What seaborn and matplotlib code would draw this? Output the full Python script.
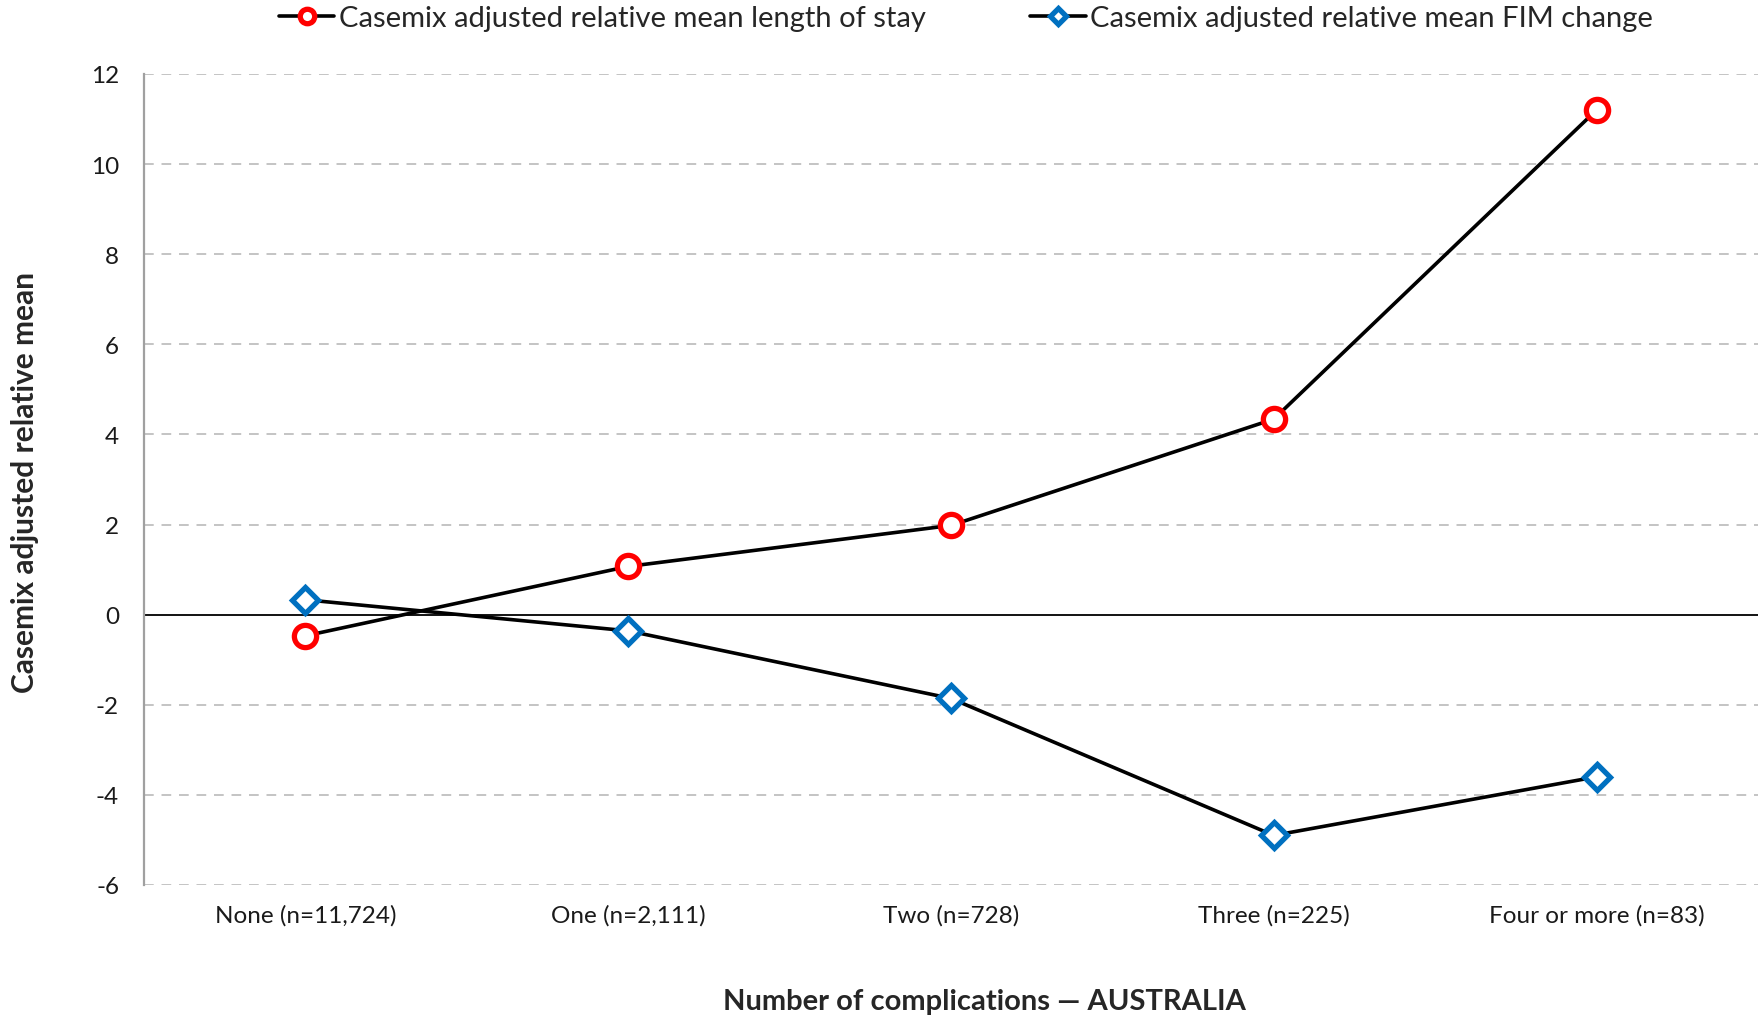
import matplotlib
matplotlib.use("Agg")
import matplotlib.pyplot as plt
import seaborn as sns
import pandas as pd

categories = ["None (n=11,724)", "One (n=2,111)", "Two (n=728)",
              "Three (n=225)", "Four or more (n=83)"]
los_values = [-0.47, 1.07, 1.98, 4.34, 11.2]
fim_values = [0.33, -0.36, -1.86, -4.9, -3.6]
y_ticks = [-6, -4, -2, 0, 2, 4, 6, 8, 10, 12]

los_label = "Casemix adjusted relative mean length of stay"
fim_label = "Casemix adjusted relative mean FIM change"

sns.set_theme(style="white")
plt.rcParams["font.family"] = ["Lato", "DejaVu Sans"]

fig = plt.figure(figsize=(17.65, 10.2), dpi=100)
ax = fig.add_axes([0.0816, 0.1314, 0.9144, 0.7951])

df_los = pd.DataFrame({"cat": categories, "val": los_values})
df_fim = pd.DataFrame({"cat": categories, "val": fim_values})

sns.lineplot(data=df_los, x="cat", y="val", ax=ax, color="black", lw=2.6,
             marker="o", markersize=16, markerfacecolor="white",
             markeredgecolor="#FF0000", markeredgewidth=3.8,
             label=los_label, zorder=4)
sns.lineplot(data=df_fim, x="cat", y="val", ax=ax, color="black", lw=2.6,
             marker="D", markersize=13, markerfacecolor="white",
             markeredgecolor="#0070C0", markeredgewidth=3.8,
             label=fim_label, zorder=4)

ax.set_xlim(-0.5, 4.5)
ax.set_ylim(-6, 12)
ax.set_yticks(y_ticks)
ax.set_yticklabels([str(t) for t in y_ticks])
for t in y_ticks:
    if t != 0:
        ax.axhline(t, color="#C4C4C4", lw=1.4, ls=(0, (5, 4)), zorder=1)
ax.axhline(0, color="black", lw=1.3, zorder=2)

for side in ["top", "right", "bottom"]:
    ax.spines[side].set_visible(False)
ax.spines["left"].set_color("#A0A0A0")
ax.spines["left"].set_linewidth(1.6)

ax.tick_params(axis="both", length=0, labelsize=17.5, colors="#1a1a1a")
ax.tick_params(axis="x", pad=14)
ax.tick_params(axis="y", pad=18)

ax.set_xlabel("")
ax.set_ylabel("")
fig.text(0.5575, 0.018, "Number of complications \u2014 AUSTRALIA",
         ha="center", va="center", fontsize=21, fontweight="bold")
fig.text(0.0142, 0.527, "Casemix adjusted relative mean", rotation=90,
         ha="center", va="center", fontsize=21.5, fontweight="bold")

leg = ax.legend(loc="center", bbox_to_anchor=(0.5473, 0.981),
                bbox_transform=fig.transFigure, ncol=2, frameon=False,
                fontsize=21, markerscale=0.65, handlelength=1.9,
                handletextpad=0.15, columnspacing=3.6)

fig.savefig("out.png", dpi=100)
